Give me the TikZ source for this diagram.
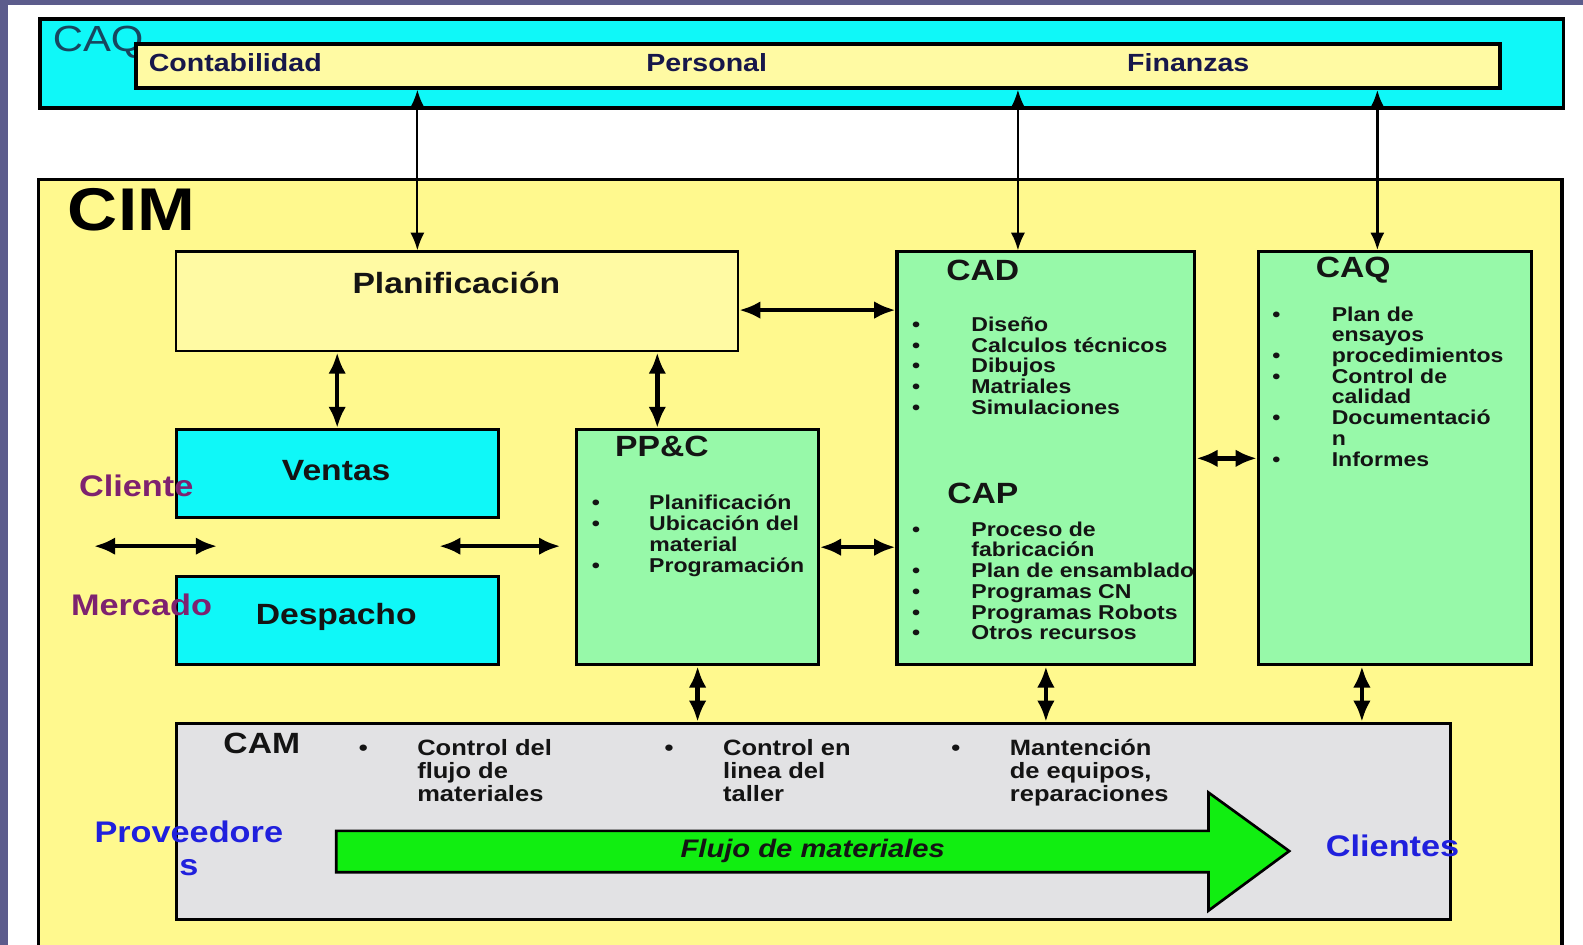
\documentclass[tikz,border=0pt]{standalone}
\usepackage{fontspec}
\setmainfont{Liberation Sans}[FakeStretch=1.15]
\usepackage{tikz}
\usetikzlibrary{
  arrows.meta,
  positioning,
  calc,
}
\definecolor{slate}{HTML}{5C5C8C}
\definecolor{aqua}{HTML}{0FF8F8}
\definecolor{cimyellow}{HTML}{FFF98E}
\definecolor{planyellow}{HTML}{FFFAA3}
\definecolor{modgreen}{HTML}{97F9A9}
\definecolor{camgray}{HTML}{E2E2E4}
\definecolor{flowgreen}{HTML}{11EE11}
\definecolor{mktpurple}{HTML}{7E2270}
\definecolor{extblue}{HTML}{2020DD}
\definecolor{barnavy}{HTML}{17174A}
\definecolor{caqteal}{HTML}{17465F}
\definecolor{ink}{HTML}{141414}

\newcommand{\itemtab}[2]{\begin{tabular}[t]{@{}p{#1}@{}l@{}}#2\end{tabular}}

\begin{document}
\begin{tikzpicture}[
    x=0.02cm, y=-0.02cm,
    box/.style={draw=black, line width=1.7pt, anchor=north west, inner sep=0pt},
    sz/.style 2 args={minimum width=#1*0.02cm, minimum height=#2*0.02cm},
    hdr/.style={font=\fontsize{16.5}{18}\selectfont\bfseries, text=ink, inner sep=0pt},
    toplbl/.style={font=\fontsize{14}{16}\selectfont\bfseries, text=barnavy, inner sep=0pt},
    lst/.style={font=\fontsize{11.3}{11.65}\selectfont\bfseries, text=ink, inner sep=0pt, anchor=base west},
    camlst/.style={font=\fontsize{12.5}{13}\selectfont\bfseries, text=ink, inner sep=0pt, anchor=base west},
    side/.style={font=\fontsize{16.8}{18.7}\selectfont\bfseries, inner sep=0pt},
    dbl/.style={{Latex[length=12pt,width=10pt]}-{Latex[length=12pt,width=10pt]}, line width=2.6pt},
    toplink/.style={{Latex[length=10pt,width=8pt]}-{Latex[length=10pt,width=8pt]}, line width=1.2pt},
  ]
  % page and slide edge
  \fill[white] (0,0) rectangle (1568,936);
  \useasboundingbox (0,0) rectangle (1568,936);
  \fill[slate] (0,0) rectangle (8,936);
  \fill[slate] (0,0) rectangle (1568,5);

  % CAQ band on top
  \node[box, fill=aqua, line width=2pt, sz={1509}{88}] (caqo) at (38,17) {};
  \node[font=\fontsize{20.5}{22}\selectfont, text=caqteal, inner sep=0pt, anchor=base west] (caqoT) at (52,51) {CAQ};
  \node[box, fill=planyellow, line width=2.2pt, sz={1351}{43}] (bar) at (133,42) {};
  \node[toplbl, anchor=west] (contT) at (147,62) {Contabilidad};
  \node[toplbl] (persT) at (700,62) {Personal};
  \node[toplbl] (finT) at (1177,62) {Finanzas};

  % CIM frame, open at the bottom
  \fill[cimyellow] (38,178) rectangle (1547,940);
  \draw[line width=2pt] (38,940) -- (38,178) -- (1547,178) -- (1547,940);
  \node[font=\fontsize{34}{36}\selectfont\bfseries, inner sep=0pt, anchor=west] (cimT) at (67,208) {CIM};

  % modules
  \node[box, fill=planyellow, line width=1.2pt, sz={557}{99}] (plan) at (173,248) {};
  \node[hdr] (planT) at (452,280) {Planificación};

  \node[box, fill=aqua, sz={319}{87}] (ventas) at (173,424) {};
  \node[hdr] (ventasT) at (333,466) {Ventas};
  \node[box, fill=aqua, sz={319}{87}] (despacho) at (173,570) {};
  \node[hdr] (despachoT) at (333,611) {Despacho};

  \node[box, fill=modgreen, sz={239}{233}] (ppc) at (570,424) {};
  \node[hdr, anchor=west] (ppcT) at (609,442) {PP\&C};
  \node[lst, font=\fontsize{11.3}{11.75}\selectfont\bfseries] (ppcL) at (586,505) {\itemtab{32.3pt}{%
    \textbullet & Planificación\\
    \textbullet & Ubicación del\\
                & material\\
    \textbullet & Programación}};

  \node[box, fill=modgreen, sz={295}{409}] (cad) at (887,248) {};
  \node[hdr, anchor=west] (cadT) at (937,268) {CAD};
  \node[lst] (cadL) at (903,328) {\itemtab{33.5pt}{%
    \textbullet & Diseño\\
    \textbullet & Calculos técnicos\\
    \textbullet & Dibujos\\
    \textbullet & Matriales\\
    \textbullet & Simulaciones}};
  \node[hdr, anchor=west] (capT) at (938,489) {CAP};
  \node[lst] (capL) at (903,531) {\itemtab{33.5pt}{%
    \textbullet & Proceso de\\
                & fabricación\\
    \textbullet & Plan de ensamblado\\
    \textbullet & Programas CN\\
    \textbullet & Programas Robots\\
    \textbullet & Otros recursos}};

  \node[box, fill=modgreen, sz={270}{409}] (caq) at (1245,248) {};
  \node[hdr, anchor=west] (caqT) at (1303,268) {CAQ};
  \node[lst] (caqL) at (1260,318) {\itemtab{33.5pt}{%
    \textbullet & Plan de\\
                & ensayos\\
    \textbullet & procedimientos\\
    \textbullet & Control de\\
                & calidad\\
    \textbullet & Documentació\\
                & n\\
    \textbullet & Informes}};

  \node[box, fill=camgray, sz={1262}{194}] (cam) at (173,715) {};
  \node[hdr, anchor=west] (camT) at (221,736) {CAM};
  \node[camlst] (cam1) at (355,748) {\itemtab{33pt}{%
    \textbullet & Control del\\ & flujo de\\ & materiales}};
  \node[camlst] (cam2) at (658,748) {\itemtab{33pt}{%
    \textbullet & Control en\\ & linea del\\ & taller}};
  \node[camlst] (cam3) at (942,748) {\itemtab{33pt}{%
    \textbullet & Mantención\\ & de equipos,\\ & reparaciones}};

  % material flow
  \draw[fill=flowgreen, line width=1.5pt, line join=miter]
    (333,823) -- (1197,823) -- (1197,785) -- (1277,843)
    -- (1197,902) -- (1197,864) -- (333,864) -- cycle;
  \node[font=\fontsize{14.3}{16}\selectfont\bfseries\itshape, text=ink, inner sep=0pt] (flujoT) at (805,843) {Flujo de materiales};

  % outside parties
  \node[side, text=mktpurple, anchor=west] (clienteT) at (78,481) {Cliente};
  \node[side, text=mktpurple, anchor=west] (mercadoT) at (70,599) {Mercado};
  \node[side, text=extblue, align=center] (provT) at (187,840) {Proveedore\\s};
  \node[side, text=extblue, anchor=west] (clientesT) at (1313,838) {Clientes};

  % links to CAQ band
  \coordinate (t1) at ($(plan.north west)!.43!(plan.north east)$);
  \coordinate (t2) at ($(cad.north west)!.407!(cad.north east)$);
  \coordinate (t3) at ($(caq.north west)!.437!(caq.north east)$);
  \draw[toplink] (t1 |- bar.south) -- (t1);
  \draw[toplink] (t2 |- bar.south) -- (t2);
  \draw[toplink, line width=1.8pt] (t3 |- bar.south) -- (t3);

  % links inside CIM
  \coordinate (p2) at ($(ppc.north west)!.335!(ppc.north east)$);
  \coordinate (p3) at ($(plan.north east)!.585!(plan.south east)$);
  \coordinate (p4) at ($(caq.south west)!.381!(caq.south east)$);
  \draw[dbl] (ventas.north) -- (ventas.north |- plan.south);
  \draw[dbl] (p2) -- (p2 |- plan.south);
  \draw[dbl] (p3) -- (p3 -| cad.west);
  \draw[dbl] (ppc.east) -- (ppc.east -| cad.west);
  \draw[dbl] (caq.west -| cad.east) -- (caq.west);
  \draw[dbl] (ppc.south) -- (ppc.south |- cam.north);
  \draw[dbl] (cad.south) -- (cad.south |- cam.north);
  \draw[dbl] (p4) -- (p4 |- cam.north);

  % market side
  \coordinate (mk1) at (93,541);
  \coordinate (mk2) at (215,541);
  \coordinate (mk3) at (435,541);
  \coordinate (mk4) at (555,541);
  \draw[dbl] (mk1) -- (mk2);
  \draw[dbl] (mk3) -- (mk4);
\end{tikzpicture}
\end{document}
